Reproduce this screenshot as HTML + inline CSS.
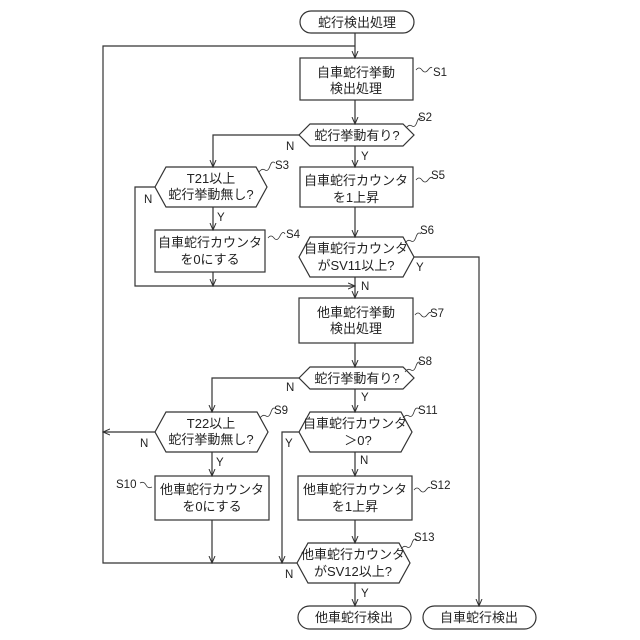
<!DOCTYPE html>
<html><head><meta charset="utf-8"><style>
html,body{margin:0;padding:0;background:#fff;}
svg{display:block;}
text{font-family:"Liberation Sans","Noto Sans CJK JP",sans-serif;font-size:13px;fill:#222;}
.l{font-size:11.5px;}
</style></head><body>
<svg width="640" height="640" viewBox="0 0 640 640" xmlns="http://www.w3.org/2000/svg">
<defs><marker id="a" markerWidth="8" markerHeight="8" refX="7" refY="4" orient="auto" markerUnits="userSpaceOnUse"><path d="M0,1 L7,4 L0,7" fill="none" stroke="#333" stroke-width="1"/></marker></defs>
<g fill="none" stroke="#333" stroke-width="1.2">
<rect x="300" y="11" width="114" height="22" rx="11"/>
<rect x="298" y="606" width="113" height="23" rx="11.5"/>
<rect x="423" y="606" width="113" height="23" rx="11.5"/>
<rect x="300" y="58" width="113" height="42"/>
<rect x="300" y="167" width="113" height="40"/>
<rect x="155" y="230" width="110" height="42"/>
<rect x="299" y="298" width="114" height="45"/>
<rect x="155" y="476" width="114" height="44"/>
<rect x="298" y="476" width="114" height="44"/>
<polygon points="299,135 310,124 403,124 414,135 403,146 310,146"/>
<polygon points="155,187 166,167 256,167 267,187 256,207 166,207"/>
<polygon points="299,257 310,237 403,237 414,257 403,277 310,277"/>
<polygon points="299,378 310,367 403,367 414,378 403,389 310,389"/>
<polygon points="155,432 166,412 257,412 268,432 257,452 166,452"/>
<polygon points="299,432 310,412 401,412 412,432 401,452 310,452"/>
<polygon points="297,563 308,543 399,543 410,563 399,583 308,583"/>
<path d="M355,33 V58" marker-end="url(#a)"/>
<path d="M297,563 H103 V46 H355" />
<path d="M355,100 V124" marker-end="url(#a)"/>
<path d="M299,135 H213 V167" marker-end="url(#a)"/>
<path d="M355,146 V167" marker-end="url(#a)"/>
<path d="M213,207 V230" marker-end="url(#a)"/>
<path d="M155,187 H135 V286 H355" marker-end="url(#a)"/>
<path d="M213,272 V286" marker-end="url(#a)"/>
<path d="M355,207 V237" marker-end="url(#a)"/>
<path d="M355,277 V298" marker-end="url(#a)"/>
<path d="M414,257 H479 V606" marker-end="url(#a)"/>
<path d="M355,343 V367" marker-end="url(#a)"/>
<path d="M299,378 H212 V412" marker-end="url(#a)"/>
<path d="M355,389 V412" marker-end="url(#a)"/>
<path d="M155,432 H103" marker-end="url(#a)"/>
<path d="M212,452 V476" marker-end="url(#a)"/>
<path d="M212,520 V563" marker-end="url(#a)"/>
<path d="M299,432 H282 V563" marker-end="url(#a)"/>
<path d="M355,452 V476" marker-end="url(#a)"/>
<path d="M355,520 V543" marker-end="url(#a)"/>
<path d="M355,583 V606" marker-end="url(#a)"/>
<g stroke-width="0.8">
<path d="M416,70 q3,-4 6,0 t6,0 t4,-2"/>
<path d="M406,128 q3,-4 6,-2 t5,-4 t5,-3"/>
<path d="M259,172 q3,-4 6,-2 t5,-4 t5,-3"/>
<path d="M268,238 q3,-4 6,0 t6,-2 t5,-2"/>
<path d="M416,180 q3,-4 6,0 t6,0 t4,-2"/>
<path d="M405,243 q3,-4 6,-2 t5,-4 t5,-3"/>
<path d="M415,315 q3,-4 6,0 t6,0 t4,-2"/>
<path d="M405,372 q3,-4 6,-2 t5,-4 t5,-3"/>
<path d="M260,418 q3,-4 6,-2 t5,-4 t5,-3"/>
<path d="M140,483 q4,-2 6,2 t6,2"/>
<path d="M403,418 q3,-4 6,-2 t5,-4 t5,-3"/>
<path d="M414,490 q3,-4 6,0 t6,0 t4,-2"/>
<path d="M401,549 q3,-4 6,-2 t5,-4 t5,-3"/>
</g>
</g>
<g text-anchor="middle">
<text x="357" y="27">蛇行検出処理</text>
<text x="356" y="77">自車蛇行挙動</text>
<text x="356" y="93">検出処理</text>
<text x="357" y="140">蛇行挙動有り?</text>
<text x="211" y="183">T21以上</text>
<text x="211" y="199">蛇行挙動無し?</text>
<text x="356" y="185">自車蛇行カウンタ</text>
<text x="356" y="202">を1上昇</text>
<text x="210" y="247">自車蛇行カウンタ</text>
<text x="210" y="264">を0にする</text>
<text x="356" y="253">自車蛇行カウンタ</text>
<text x="356" y="270">がSV11以上?</text>
<text x="356" y="317">他車蛇行挙動</text>
<text x="356" y="333">検出処理</text>
<text x="357" y="383">蛇行挙動有り?</text>
<text x="211" y="428">T22以上</text>
<text x="211" y="444">蛇行挙動無し?</text>
<text x="355" y="428">自車蛇行カウンタ</text>
<text x="358" y="445">＞0?</text>
<text x="212" y="494">他車蛇行カウンタ</text>
<text x="212" y="511">を0にする</text>
<text x="355" y="494">他車蛇行カウンタ</text>
<text x="355" y="511">を1上昇</text>
<text x="353" y="559">他車蛇行カウンタ</text>
<text x="353" y="576">がSV12以上?</text>
<text x="354" y="622">他車蛇行検出</text>
<text x="479" y="622">自車蛇行検出</text>
</g>
<g>
<text class="l" x="433" y="76">S1</text>
<text class="l" x="418" y="121">S2</text>
<text class="l" x="275" y="169">S3</text>
<text class="l" x="286" y="238">S4</text>
<text class="l" x="431" y="179">S5</text>
<text class="l" x="420" y="234">S6</text>
<text class="l" x="430" y="317">S7</text>
<text class="l" x="418" y="365">S8</text>
<text class="l" x="274" y="414">S9</text>
<text class="l" x="116" y="488">S10</text>
<text class="l" x="418" y="414">S11</text>
<text class="l" x="430" y="489">S12</text>
<text class="l" x="414" y="541">S13</text>
<text class="l" x="286" y="150">N</text>
<text class="l" x="361" y="160">Y</text>
<text class="l" x="144" y="203">N</text>
<text class="l" x="217" y="221">Y</text>
<text class="l" x="416" y="271">Y</text>
<text class="l" x="361" y="290">N</text>
<text class="l" x="286" y="391">N</text>
<text class="l" x="361" y="401">Y</text>
<text class="l" x="140" y="447">N</text>
<text class="l" x="216" y="466">Y</text>
<text class="l" x="285" y="447">Y</text>
<text class="l" x="360" y="464">N</text>
<text class="l" x="285" y="578">N</text>
<text class="l" x="361" y="597">Y</text>
</g>
</svg>
</body></html>
